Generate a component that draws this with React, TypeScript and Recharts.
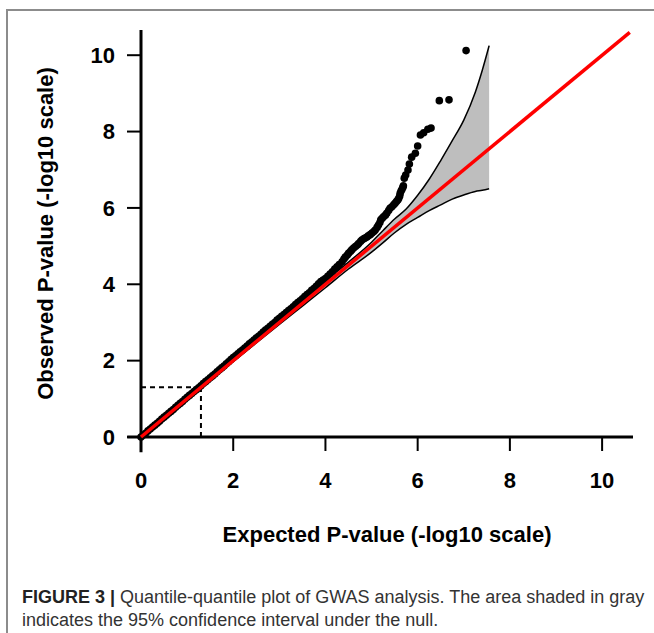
import React from "react";
import {
  ComposedChart,
  Area,
  Scatter,
  XAxis,
  YAxis,
  ReferenceLine,
  Label,
} from "recharts";

// Q-Q points: expected vs observed -log10(p)
const qqExpected = [
  0.0, 0.05, 0.1, 0.15, 0.2, 0.25, 0.3, 0.35, 0.4, 0.45, 0.5, 0.55, 0.6, 0.65,
  0.7, 0.75, 0.8, 0.85, 0.9, 0.95, 1.0, 1.05, 1.1, 1.15, 1.2, 1.25, 1.3, 1.35,
  1.4, 1.45, 1.5, 1.55, 1.6, 1.65, 1.7, 1.75, 1.8, 1.85, 1.9, 1.95, 2.0, 2.05,
  2.1, 2.15, 2.2, 2.25, 2.3, 2.35, 2.4, 2.45, 2.5, 2.55, 2.6, 2.65, 2.7, 2.75,
  2.8, 2.85, 2.9, 2.95, 3.0, 3.05, 3.1, 3.15, 3.2, 3.25, 3.3, 3.35, 3.4, 3.45,
  3.5, 3.55, 3.6, 3.65, 3.7, 3.75, 3.8, 3.85, 3.9, 3.95, 4.0, 4.05, 4.1, 4.15,
  4.2, 4.25, 4.3, 4.36, 4.4, 4.43, 4.47, 4.5, 4.54, 4.57, 4.61, 4.65, 4.69,
  4.72, 4.76, 4.79, 4.83, 4.86, 4.9, 4.93, 4.97, 5.01, 5.05, 5.08, 5.12, 5.15,
  5.18, 5.2, 5.23, 5.26, 5.3, 5.33, 5.37, 5.4, 5.44, 5.48, 5.51, 5.54, 5.57,
  5.59, 5.61, 5.62, 5.64, 5.66, 5.68, 5.69, 5.71, 5.74, 5.79, 5.82, 5.87, 5.95,
  6.0, 6.06, 6.13, 6.22, 6.29, 6.47, 6.68, 7.05,
];
const qqObserved = [
  0.0, 0.05, 0.1, 0.16, 0.21, 0.26, 0.31, 0.36, 0.41, 0.47, 0.52, 0.57, 0.62,
  0.67, 0.72, 0.78, 0.83, 0.88, 0.93, 0.99, 1.04, 1.09, 1.14, 1.19, 1.24, 1.29,
  1.34, 1.4, 1.45, 1.5, 1.55, 1.6, 1.65, 1.71, 1.76, 1.81, 1.86, 1.92, 1.97,
  2.03, 2.08, 2.13, 2.18, 2.23, 2.28, 2.33, 2.38, 2.44, 2.49, 2.54, 2.59, 2.64,
  2.69, 2.75, 2.8, 2.85, 2.9, 2.95, 3.0, 3.06, 3.11, 3.16, 3.21, 3.26, 3.31,
  3.36, 3.41, 3.47, 3.52, 3.57, 3.62, 3.68, 3.73, 3.78, 3.84, 3.89, 3.95, 4.01,
  4.07, 4.11, 4.15, 4.21, 4.27, 4.33, 4.4, 4.46, 4.52, 4.59, 4.66, 4.71, 4.76,
  4.81, 4.86, 4.9, 4.95, 4.99, 5.03, 5.07, 5.12, 5.16, 5.19, 5.21, 5.24, 5.27,
  5.3, 5.34, 5.38, 5.42, 5.49, 5.55, 5.62, 5.69, 5.73, 5.77, 5.81, 5.86, 5.93,
  5.99, 6.03, 6.08, 6.12, 6.17, 6.21, 6.25, 6.31, 6.38, 6.44, 6.49, 6.54, 6.58,
  6.78, 6.86, 6.99, 7.15, 7.33, 7.43, 7.62, 7.91, 7.97, 8.06, 8.09, 8.81, 8.83,
  10.12,
];

// 95% confidence band under the null
const bandX = [0, 1, 2, 3, 3.5, 4, 4.5, 5.0, 5.25, 5.5, 5.75, 6.0, 6.25, 6.5, 6.75, 7.0, 7.25, 7.4, 7.55];
const bandLow = [0, 0.99, 1.97, 2.95, 3.43, 3.91, 4.4, 4.84, 5.09, 5.35, 5.57, 5.75, 5.93, 6.08, 6.23, 6.34, 6.43, 6.46, 6.5];
const bandHigh = [0, 1.01, 2.03, 3.05, 3.57, 4.09, 4.58, 5.1, 5.41, 5.71, 5.97, 6.33, 6.75, 7.24, 7.76, 8.3, 9.03, 9.6, 10.25];

// y = x reference
const diagX = [0, 10.6];

const xTicks = [0, 2, 4, 6, 8, 10];
const yTicks = [0, 2, 4, 6, 8, 10];
const xReach = [-0.3, 10.67];
const yReach = [-0.4, 10.66];
const sigLevel = 1.3;

const bandData = bandX.map((x, i) => ({ x, band: [bandLow[i], bandHigh[i]] }));
const qqData = qqExpected.map((x, i) => ({ x, y: qqObserved[i] }));
const diagData = diagX.map((x) => ({ x, y: x }));

const boldFont = "'Liberation Sans', Arial, Helvetica, sans-serif";

export default function App() {
  return (
    <div style={{ position: "absolute", left: 0, top: 0, width: 654, height: 633 }}>
      <div
        style={{
          position: "absolute",
          left: 6,
          top: 9,
          width: 648,
          height: 624,
          borderTop: "2px solid #8c8c8c",
          borderLeft: "2px solid #8c8c8c",
          boxSizing: "border-box",
        }}
      />
      <div style={{ position: "absolute", left: 0, top: 0 }}>
        <ComposedChart
          width={654}
          height={560}
          data={bandData}
          margin={{ top: 30, right: 21, left: 0, bottom: 0 }}
        >
          <XAxis
            type="number"
            dataKey="x"
            domain={[0, 10.67]}
            ticks={xTicks}
            axisLine={false}
            tickSize={14}
            tickMargin={21}
            tickLine={{ stroke: "#000", strokeWidth: 2 }}
            tick={{ fill: "#000", fontSize: 22, fontWeight: "bold", fontFamily: boldFont }}
            height={123}
          >
            <Label
              content={({ viewBox }: any) => (
                <text
                  x={viewBox.x + viewBox.width / 2}
                  y={viewBox.y + 105}
                  textAnchor="middle"
                  fill="#000"
                  fontSize={22}
                  fontWeight="bold"
                  fontFamily={boldFont}
                >
                  Expected P-value (-log10 scale)
                </text>
              )}
            />
          </XAxis>
          <YAxis
            type="number"
            dataKey="y"
            domain={[0, 10.66]}
            ticks={yTicks}
            axisLine={false}
            tickSize={14}
            tickMargin={12}
            tickLine={{ stroke: "#000", strokeWidth: 2 }}
            tick={{ fill: "#000", fontSize: 22, fontWeight: "bold", fontFamily: boldFont }}
            width={141}
          >
            <Label
              content={({ viewBox }: any) => {
                const cy = viewBox.y + viewBox.height / 2;
                return (
                  <text
                    x={53}
                    y={cy}
                    transform={`rotate(-90, 53, ${cy})`}
                    textAnchor="middle"
                    fill="#000"
                    fontSize={22}
                    fontWeight="bold"
                    fontFamily={boldFont}
                  >
                    Observed P-value (-log10 scale)
                  </text>
                );
              }}
            />
          </YAxis>
          <ReferenceLine
            segment={[{ x: xReach[0], y: 0 }, { x: xReach[1], y: 0 }]}
            stroke="#000"
            strokeWidth={3}
            ifOverflow="visible"
          />
          <ReferenceLine
            segment={[{ x: 0, y: yReach[0] }, { x: 0, y: yReach[1] }]}
            stroke="#000"
            strokeWidth={3}
            ifOverflow="visible"
          />
          <Area
            type="monotone"
            dataKey="band"
            fill="#bebebe"
            fillOpacity={1}
            stroke="#000"
            strokeWidth={1.5}
            dot={false}
            activeDot={false}
            isAnimationActive={false}
          />
          <ReferenceLine
            segment={[{ x: 0, y: sigLevel }, { x: sigLevel, y: sigLevel }]}
            stroke="#000"
            strokeWidth={2}
            strokeDasharray="5 4"
          />
          <ReferenceLine
            segment={[{ x: sigLevel, y: 0 }, { x: sigLevel, y: sigLevel }]}
            stroke="#000"
            strokeWidth={2}
            strokeDasharray="5 4"
          />
          <Scatter
            data={qqData}
            fill="#000"
            isAnimationActive={false}
            shape={(p: any) => <circle cx={p.cx} cy={p.cy} r={3.8} fill="#000" />}
          />
          {/* y = x drawn as a lined scatter so it sits above the points */}
          <Scatter
            data={diagData}
            line={{ stroke: "#ff0000", strokeWidth: 3.5 }}
            shape={() => <g />}
            isAnimationActive={false}
          />
        </ComposedChart>
      </div>
      <div
        style={{
          position: "absolute",
          left: 22,
          top: 586,
          width: 630,
          fontFamily: "'Liberation Sans', Arial, Helvetica, sans-serif",
          fontSize: 18,
          lineHeight: "23px",
          color: "#333",
          whiteSpace: "nowrap",
        }}
      >
        <b style={{ color: "#222" }}>FIGURE 3 |</b> Quantile-quantile plot of GWAS analysis. The area shaded in gray
        <br />
        indicates the 95% confidence interval under the null.
      </div>
    </div>
  );
}
